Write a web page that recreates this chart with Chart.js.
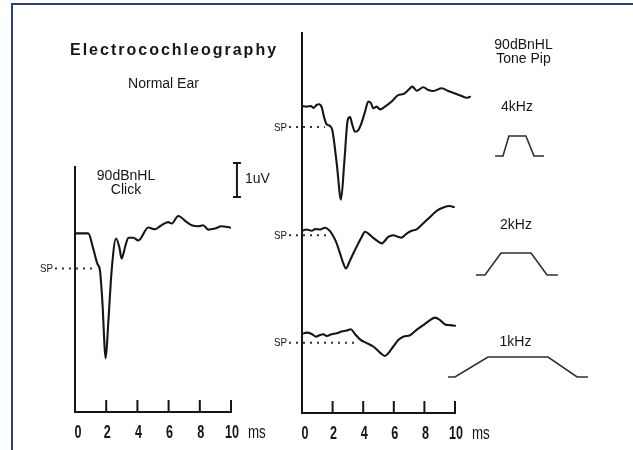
<!DOCTYPE html>
<html>
<head>
<meta charset="utf-8">
<script src="https://cdn.jsdelivr.net/npm/chart.js@4.4.1/dist/chart.umd.min.js"></script>
<style>
  html, body { margin: 0; padding: 0; background: #fff; }
  #page { position: relative; width: 633px; height: 450px; overflow: hidden; background: #fff; }
  #page canvas { position: absolute; left: 0; top: 0; }
  #frame { position: absolute; left: 11px; top: 3px; width: 700px; height: 520px;
           border-top: 2px solid #2b3a94; border-left: 2px solid #2b3a94; }
</style>
</head>
<body>
<div id="page">
  <div id="frame"></div>
  <canvas id="clickChart" width="633" height="450"></canvas>
  <canvas id="pipChart" width="633" height="450"></canvas>
  <canvas id="envChart" width="633" height="450"></canvas>
</div>
<script>
// ---- time axis (ms) ----
const timeTicks = [0, 2, 4, 6, 8, 10];
const tickLabels = ['0', '2', '4', '6', '8', '10'];
const timeUnit = 'ms';

// ---- click response (uV relative to pre-stimulus baseline) ----
const clickTime  = [0, 0.85, 1.17, 1.43, 1.60, 1.75, 1.97, 2.13, 2.35, 2.63, 2.84, 2.99, 3.21, 3.42, 3.74,
                    4.06, 4.70, 5.13, 5.45, 5.98, 6.20, 6.62, 7.16, 7.48, 7.90, 8.22, 8.54, 8.97, 9.40, 9.94];
const clickVolts = [0, 0, -0.45, -0.89, -1.09, -1.97, -3.67, -2.65, -1.09, -0.15, -0.40, -0.74, -0.40, -0.13, -0.13,
                    -0.21, 0.17, 0.12, 0.21, 0.33, 0.29, 0.51, 0.33, 0.24, 0.21, 0.24, 0.11, 0.14, 0.21, 0.17];
const clickBaseline = 5.25;
const clickSP = -1.03;
const clickSPSpan = [-1.28, 1.15];

// ---- tone pip responses ----
const pip4kTime  = [0, 0.31, 0.59, 0.74, 0.96, 1.11, 1.29, 1.46, 1.61, 1.83, 1.98, 2.27, 2.55, 2.76, 2.99, 3.14,
                    3.29, 3.46, 3.68, 3.90, 4.12, 4.33, 4.51, 4.66, 4.88, 5.10, 5.42, 5.86, 6.29, 6.62, 6.95, 7.21,
                    7.50, 7.93, 8.26, 8.58, 9.13, 9.56, 10.0, 10.44, 10.76, 10.98];
const pip4kVolts = [0, -0.02, 0, -0.06, 0.03, 0.05, -0.04, -0.36, -0.54, -0.59, -0.71, -1.69, -2.76, -1.69, -0.41, -0.33,
                    -0.56, -0.76, -0.71, -0.49, -0.17, 0.13, 0.08, -0.07, -0.02, -0.10, -0.02, 0.13, 0.32, 0.35, 0.47, 0.57,
                    0.45, 0.55, 0.47, 0.44, 0.52, 0.44, 0.37, 0.29, 0.24, 0.27];

const pip2kTime  = [0, 0.31, 0.64, 0.85, 1.18, 1.50, 1.72, 1.94, 2.22, 2.48, 2.70, 2.88, 3.10, 3.36, 3.68, 3.90,
                    4.12, 4.34, 4.66, 4.99, 5.21, 5.36, 5.64, 5.97, 6.29, 6.51, 6.84, 7.17, 7.49, 7.93, 8.37, 8.80,
                    9.24, 9.67, 9.93];
const pip2kVolts = [-0.02, 0.02, -0.02, 0.03, 0.02, 0.07, 0.02, -0.10, -0.34, -0.68, -0.98, -1.13, -0.93, -0.68, -0.39, -0.20,
                    -0.05, -0.10, -0.23, -0.34, -0.39, -0.34, -0.20, -0.15, -0.20, -0.22, -0.10, -0.02, 0.02, 0.20, 0.39, 0.57,
                    0.67, 0.71, 0.68];

const pip1kTime  = [0, 0.31, 0.64, 0.92, 1.18, 1.39, 1.61, 1.94, 2.27, 2.59, 2.92, 3.18, 3.46, 3.79, 4.23, 4.66,
                    5.10, 5.42, 5.64, 5.97, 6.29, 6.62, 7.06, 7.49, 7.93, 8.37, 8.69, 9.02, 9.35, 9.67, 10.0];
const pip1kVolts = [0, 0.04, 0, -0.08, -0.03, -0.01, -0.06, -0.01, 0.02, 0.07, 0.10, 0.14, 0, -0.16, -0.27, -0.37,
                    -0.55, -0.65, -0.57, -0.37, -0.18, -0.08, -0.04, 0.12, 0.26, 0.41, 0.48, 0.41, 0.28, 0.26, 0.24];

const pipBaselines = [9.05, 5.39, 2.33];          // 4kHz, 2kHz, 1kHz
const pipSP        = [-0.62, -0.15, -0.26];
const pipSPStart   = -0.85;
const pipSPEnd     = [1.5, 1.85, 3.6];

// ---- stimulus envelopes (ms about the pip centre, relative amplitude) ----
const env4kTime = [-1.39, -0.91, -0.55, 0.48, 0.97, 1.58];
const env2kTime = [-2.55, -2.00, -1.03, 0.79, 1.76, 2.42];
const env1kTime = [-4.24, -3.82, -1.82, 1.82, 3.58, 4.24];
const env4kAmp  = [0, 0, 1.0, 1.0, 0, 0];
const env2kAmp  = [0, 0, 1.1, 1.1, 0, 0];
const env1kAmp  = [0, 0, 1.0, 1.0, 0, 0];
const envBaselines = [12.2, 6.25, 1.15];

const INK = '#161616';
const SANS = '"Liberation Sans", Arial, sans-serif';

// Horizontally condensed text (narrow lettering of the axes)
function condensedText(ctx, text, x, y, font, squeeze, align) {
  ctx.save();
  ctx.font = font;
  ctx.translate(x, y);
  ctx.scale(squeeze, 1);
  ctx.textAlign = align;
  ctx.fillText(text, 0, 0);
  ctx.restore();
}

function trace(time, volts, base) {
  return time.map((t, i) => ({ x: t, y: base + volts[i] }));
}
function waveDataset(points) {
  return { data: points, borderColor: INK, borderWidth: 2.1, pointRadius: 0,
           cubicInterpolationMode: 'monotone', clip: false, borderCapStyle: 'round', borderJoinStyle: 'round' };
}
function spDataset(x0, x1, level) {
  return { data: [{ x: x0, y: level }, { x: x1, y: level }], borderColor: '#333', borderWidth: 2,
           borderDash: [2, 5], pointRadius: 0, clip: false, spLabel: true };
}

// Panel axes: vertical voltage axis at t=0, time axis with inward ticks and labels.
const panelAxes = {
  id: 'panelAxes',
  afterDatasetsDraw(chart, args, opts) {
    if (!opts.show) return;
    const { ctx } = chart;
    const xs = chart.scales.x, ys = chart.scales.y;
    const x0 = xs.getPixelForValue(0);
    const xEnd = xs.getPixelForValue(timeTicks[timeTicks.length - 1]);
    const yTop = ys.getPixelForValue(ys.max);
    const yBot = ys.getPixelForValue(ys.min);
    ctx.save();
    ctx.strokeStyle = INK;
    ctx.lineWidth = 2;
    ctx.lineCap = 'square';
    ctx.beginPath();
    ctx.moveTo(x0, yTop);
    ctx.lineTo(x0, yBot);
    ctx.lineTo(xEnd, yBot);
    timeTicks.forEach(t => {
      if (t === 0) return;
      const px = xs.getPixelForValue(t);
      ctx.moveTo(px, yBot);
      ctx.lineTo(px, yBot - 11);
    });
    ctx.stroke();
    ctx.fillStyle = INK;
    ctx.textBaseline = 'alphabetic';
    const tickFont = 'bold 18px ' + SANS;
    timeTicks.forEach((t, i) =>
      condensedText(ctx, tickLabels[i], xs.getPixelForValue(t) + (t === 0 ? 3 : 1), yBot + 26, tickFont, 0.7, 'center'));
    condensedText(ctx, timeUnit, xEnd + 17, yBot + 26, '18px ' + SANS, 0.74, 'left');
    // SP labels at the start of each dotted level line
    ctx.textBaseline = 'middle';
    chart.data.datasets.forEach(ds => {
      if (!ds.spLabel) return;
      const p = ds.data[0];
      condensedText(ctx, 'SP', xs.getPixelForValue(p.x) - 2, ys.getPixelForValue(p.y) + 0.5, '11.5px ' + SANS, 0.85, 'right');
    });
    // 1 uV calibration bar
    if (opts.calibration) {
      const c = opts.calibration;
      const bx = xs.getPixelForValue(c.t);
      const b0 = ys.getPixelForValue(c.v), b1 = ys.getPixelForValue(c.v + 1);
      ctx.lineWidth = 2;
      ctx.lineCap = 'butt';
      ctx.beginPath();
      ctx.moveTo(bx, b0); ctx.lineTo(bx, b1);
      ctx.moveTo(bx - 4, b0); ctx.lineTo(bx + 4, b0);
      ctx.moveTo(bx - 4, b1); ctx.lineTo(bx + 4, b1);
      ctx.stroke();
    }
    ctx.restore();
  }
};

// Free-standing captions
const captions = {
  id: 'captions',
  afterDraw(chart, args, opts) {
    if (!opts.items) return;
    const { ctx } = chart;
    ctx.save();
    ctx.fillStyle = INK;
    ctx.textBaseline = 'alphabetic';
    opts.items.forEach(it => {
      ctx.font = it.font;
      if (it.spacing) {
        let x = it.x;
        for (const ch of it.text) {
          ctx.textAlign = 'left';
          ctx.fillText(ch, x, it.y);
          x += ctx.measureText(ch).width + it.spacing;
        }
      } else {
        ctx.textAlign = it.align || 'center';
        ctx.fillText(it.text, it.x, it.y);
      }
    });
    ctx.restore();
  }
};

Chart.register(panelAxes, captions);

const hiddenScales = (xmin, xmax, ymin, ymax) => ({
  x: { type: 'linear', display: false, min: xmin, max: xmax },
  y: { type: 'linear', display: false, min: ymin, max: ymax }
});
const basePlugins = { legend: { display: false }, tooltip: { enabled: false }, title: { display: false } };

// Click panel: 15.6 px per ms, 34 px per uV
new Chart(document.getElementById('clickChart'), {
  type: 'line',
  data: { datasets: [
    waveDataset(trace(clickTime, clickVolts, clickBaseline)),
    spDataset(clickSPSpan[0], clickSPSpan[1], clickBaseline + clickSP)
  ] },
  options: {
    responsive: false, animation: false, events: [],
    layout: { padding: { left: 51.6, right: 633 - 238.8, top: 167, bottom: 38 } },
    scales: hiddenScales(-1.5, 10.5, 0, 7.2),
    plugins: Object.assign({}, basePlugins, {
      panelAxes: { show: true, calibration: { t: 10.38, v: 6.32 } },
      captions: { items: [
        { text: 'Electrocochleography', x: 70, y: 55, font: 'bold 16px ' + SANS, spacing: 2 },
        { text: 'Normal Ear', x: 163.5, y: 88, font: '14px ' + SANS },
        { text: '90dBnHL', x: 126, y: 180, font: '14px ' + SANS },
        { text: 'Click', x: 126, y: 194, font: '14px ' + SANS },
        { text: '1uV', x: 245, y: 183, font: '14px ' + SANS, align: 'left' }
      ] }
    })
  }
});

// Tone pip panel
new Chart(document.getElementById('pipChart'), {
  type: 'line',
  data: { datasets: [
    waveDataset(trace(pip4kTime, pip4kVolts, pipBaselines[0])),
    waveDataset(trace(pip2kTime, pip2kVolts, pipBaselines[1])),
    waveDataset(trace(pip1kTime, pip1kVolts, pipBaselines[2])),
    spDataset(pipSPStart, pipSPEnd[0], pipBaselines[0] + pipSP[0]),
    spDataset(pipSPStart, pipSPEnd[1], pipBaselines[1] + pipSP[1]),
    spDataset(pipSPStart, pipSPEnd[2], pipBaselines[2] + pipSP[2])
  ] },
  options: {
    responsive: false, animation: false, events: [],
    layout: { padding: { left: 302 - 15.3, right: 633 - (302 + 11 * 15.3), top: 33, bottom: 37 } },
    scales: hiddenScales(-1, 11, 0, 11.2),
    plugins: Object.assign({}, basePlugins, { panelAxes: { show: true } })
  }
});

// Stimulus envelopes
function envDataset(time, amp, base) {
  return { data: time.map((t, i) => ({ x: t, y: base + amp[i] })), borderColor: '#2e2e2e',
           borderWidth: 1.6, pointRadius: 0, tension: 0, clip: false };
}
new Chart(document.getElementById('envChart'), {
  type: 'line',
  data: { datasets: [
    envDataset(env4kTime, env4kAmp, envBaselines[0]),
    envDataset(env2kTime, env2kAmp, envBaselines[1]),
    envDataset(env1kTime, env1kAmp, envBaselines[2])
  ] },
  options: {
    responsive: false, animation: false, events: [],
    layout: { padding: { left: 435.5, right: 32.5, top: 100, bottom: 50 } },
    scales: hiddenScales(-5, 5, 0, 15),
    plugins: Object.assign({}, basePlugins, {
      captions: { items: [
        { text: '90dBnHL', x: 523.5, y: 49, font: '14px ' + SANS },
        { text: 'Tone Pip', x: 523.5, y: 63, font: '14px ' + SANS },
        { text: '4kHz', x: 517, y: 111, font: '14px ' + SANS },
        { text: '2kHz', x: 516, y: 229, font: '14px ' + SANS },
        { text: '1kHz', x: 515.5, y: 346, font: '14px ' + SANS }
      ] }
    })
  }
});
</script>
</body>
</html>
